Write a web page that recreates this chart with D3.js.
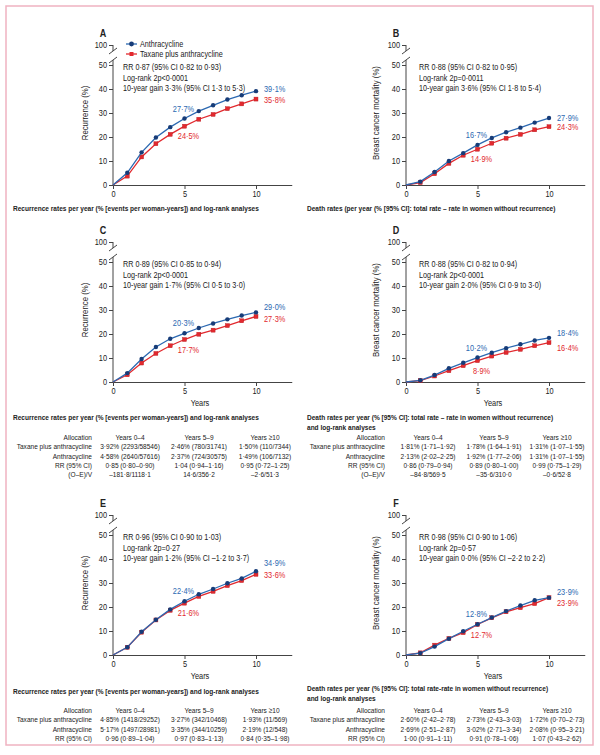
<!DOCTYPE html>
<html>
<head>
<meta charset="utf-8">
<script src="https://cdn.jsdelivr.net/npm/d3@7"></script>
<style>
  body { margin: 0; background: #fff; }
  svg text { font-family: "Liberation Sans Narrow", "Arial Narrow", "Liberation Sans", sans-serif; fill: #222; }
</style>
</head>
<body>
<svg id="chart" width="600" height="755"></svg>
<script>
const years = [0, 1, 2, 3, 4, 5, 6, 7, 8, 9, 10];
const yTicks = [0, 10, 20, 30, 40, 50, 100];
const xTicks = [0, 5, 10];
const seriesNames = ['Anthracycline', 'Taxane plus anthracycline'];
const tableHead = ['Allocation', 'Years 0–4', 'Years 5–9', 'Years ≥10'];

// A: recurrence, B: breast cancer mortality (all women)
const aAnthra = [0, 5.1, 13.6, 19.8, 24.1, 27.7, 30.8, 33.2, 35.6, 37.4, 39.1];
const aTaxane = [0, 3.7, 11.7, 17.2, 21.1, 24.5, 27.4, 29.4, 31.8, 33.8, 35.8];
const bAnthra = [0, 1.4, 5.4, 10.0, 13.3, 16.7, 19.6, 22.0, 23.9, 26.0, 27.9];
const bTaxane = [0, 1.0, 4.7, 9.0, 12.4, 14.9, 17.4, 19.5, 21.1, 23.0, 24.3];

// C / D
const cAnthra = [0, 3.7, 9.6, 14.6, 18.0, 20.3, 22.5, 24.4, 26.1, 27.7, 29.0];
const cTaxane = [0, 3.0, 7.9, 11.9, 15.1, 17.7, 19.9, 21.6, 23.5, 25.5, 27.3];
const dAnthra = [0, 0.7, 2.9, 5.7, 8.0, 10.2, 12.2, 14.1, 15.7, 17.3, 18.4];
const dTaxane = [0, 0.6, 2.5, 4.7, 6.8, 8.9, 10.8, 12.3, 13.6, 15.1, 16.4];

// E / F
const eAnthra = [0, 3.2, 9.7, 14.7, 19.0, 22.4, 25.3, 27.5, 29.9, 31.9, 34.9];
const eTaxane = [0, 3.2, 9.5, 14.6, 18.6, 21.6, 24.4, 26.5, 28.9, 31.0, 33.6];
const fAnthra = [0, 0.8, 3.5, 6.8, 9.9, 12.8, 15.6, 18.3, 20.6, 22.8, 23.9];
const fTaxane = [0, 0.9, 4.1, 6.9, 9.3, 12.7, 15.5, 18.0, 19.7, 21.4, 23.9];

const aNotes = ['RR 0·87 (95% CI 0·82 to 0·93)', 'Log-rank 2p<0·0001', '10-year gain 3·3% (95% CI 1·3 to 5·3)'];
const bNotes = ['RR 0·88 (95% CI 0·82 to 0·95)', 'Log-rank 2p=0·0011', '10-year gain 3·6% (95% CI 1·8 to 5·4)'];
const cNotes = ['RR 0·89 (95% CI 0·85 to 0·94)', 'Log-rank 2p<0·0001', '10-year gain 1·7% (95% CI 0·5 to 3·0)'];
const dNotes = ['RR 0·88 (95% CI 0·82 to 0·94)', 'Log-rank 2p<0·0001', '10-year gain 2·0% (95% CI 0·9 to 3·0)'];
const eNotes = ['RR 0·96 (95% CI 0·90 to 1·03)', 'Log-rank 2p=0·27', '10-year gain 1·2% (95% CI –1·2 to 3·7)'];
const fNotes = ['RR 0·98 (95% CI 0·90 to 1·06)', 'Log-rank 2p=0·57', '10-year gain 0·0% (95% CI –2·2 to 2·2)'];

const recurTitle = ['Recurrence rates per year (% [events per woman-years]) and log-rank analyses'];
const bTitle = ['Death rates (per year (% [95% CI]: total rate – rate in women without recurrence)'];
const dTitle = ['Death rates per year (% [95% CI]: total rate – rate in women without recurrence)', 'and log-rank analyses'];
const fTitle = ['Death rates per year (% [95% CI]: total rate-rate in women without recurrence)', 'and log-rank analyses'];

const cTable = [
  ['Taxane plus anthracycline', '3·92% (2293/58546)', '2·46% (780/31741)', '1·50% (110/7344)'],
  ['Anthracycline', '4·58% (2640/57616)', '2·37% (724/30575)', '1·49% (106/7132)'],
  ['RR (95% CI)', '0·85 (0·80–0·90)', '1·04 (0·94–1·16)', '0·95 (0·72–1·25)'],
  ['(O–E)/V', '–181·8/1118·1', '14·6/356·2', '–2·6/51·3']
];
const dTable = [
  ['Taxane plus anthracycline', '1·81% (1·71–1·92)', '1·78% (1·64–1·91)', '1·31% (1·07–1·55)'],
  ['Anthracycline', '2·13% (2·02–2·25)', '1·92% (1·77–2·06)', '1·31% (1·07–1·55)'],
  ['RR (95% CI)', '0·86 (0·79–0·94)', '0·89 (0·80–1·00)', '0·99 (0·75–1·29)'],
  ['(O–E)/V', '–84·8/569·5', '–35·6/310·0', '–0·6/52·8']
];
const eTable = [
  ['Taxane plus anthracycline', '4·85% (1418/29252)', '3·27% (342/10468)', '1·93% (11/569)'],
  ['Anthracycline', '5·17% (1497/28981)', '3·35% (344/10259)', '2·19% (12/548)'],
  ['RR (95% CI)', '0·96 (0·89–1·04)', '0·97 (0·83–1·13)', '0·84 (0·35–1·98)']
];
const fTable = [
  ['Taxane plus anthracycline', '2·60% (2·42–2·78)', '2·73% (2·43–3·03)', '1·72% (0·70–2·73)'],
  ['Anthracycline', '2·69% (2·51–2·87)', '3·02% (2·71–3·34)', '2·08% (0·95–3·21)'],
  ['RR (95% CI)', '1·00 (0·91–1·11)', '0·91 (0·78–1·06)', '1·07 (0·43–2·62)']
];

const blue = '#2b68b1', blueDark = '#173c78', red = '#e2292e', redDark = '#b81a1f';
const recurLabel = 'Recurrence (%)', mortLabel = 'Breast cancer mortality (%)';

const panels = [
  { id: 'A', ax: 113, y0: 185, anthra: aAnthra, taxane: aTaxane, notes: aNotes, ylab: recurLabel, legend: true,
    title: recurTitle, titleDy: 26, years: false, endDy: [-2, 1] },
  { id: 'B', ax: 406, y0: 185, anthra: bAnthra, taxane: bTaxane, notes: bNotes, ylab: mortLabel,
    title: bTitle, titleDy: 26, years: false, endDy: [0, 0] },
  { id: 'C', ax: 113, y0: 382, anthra: cAnthra, taxane: cTaxane, notes: cNotes, ylab: recurLabel,
    title: recurTitle, titleDy: 38, years: true, table: cTable, endDy: [-5, 2.5] },
  { id: 'D', ax: 406, y0: 382, anthra: dAnthra, taxane: dTaxane, notes: dNotes, ylab: mortLabel,
    title: dTitle, titleDy: 38, years: true, table: dTable, endDy: [-5, 5] },
  { id: 'E', ax: 113, y0: 655, anthra: eAnthra, taxane: eTaxane, notes: eNotes, ylab: recurLabel,
    title: recurTitle, titleDy: 39, years: true, table: eTable, endDy: [-8, 1] },
  { id: 'F', ax: 406, y0: 655, anthra: fAnthra, taxane: fTaxane, notes: fNotes, ylab: mortLabel,
    title: fTitle, titleDy: 36, years: true, table: fTable, endDy: [-6, 5] }
];

const svg = d3.select('#chart');
const fmt = v => v.toFixed(1).replace('.', '·') + '%';

// pink frame round the figure
svg.append('rect')
  .attr('x', 6).attr('y', 6).attr('width', 587).attr('height', 739)
  .attr('fill', 'none').attr('stroke', '#efb3c1').attr('stroke-width', 1.5);

panels.forEach(p => {
  const left = p.ax < 300;
  const g = svg.append('g');
  const x = d3.scaleLinear().domain([0, 12.5]).range([p.ax, p.ax + 178.75]);
  // broken axis: 0-50 then a short stretch up to 100
  const y = d3.scaleLinear().domain([0, 50, 100]).range([p.y0, p.y0 - 120, p.y0 - 140]);

  // axes
  const yAxis = g.append('g').attr('transform', `translate(${p.ax},0)`)
    .call(d3.axisLeft(y).tickValues(yTicks).tickSize(4).tickPadding(2));
  yAxis.select('.domain').remove();
  const xAxis = g.append('g').attr('transform', `translate(0,${p.y0})`)
    .call(d3.axisBottom(x).tickValues(xTicks).tickSize(4).tickSizeOuter(0).tickPadding(2));
  g.selectAll('.tick text').attr('font-size', 9).attr('fill', '#222');
  g.selectAll('.tick line, .domain').attr('stroke', '#444');

  const brLo = y(50) - 5, brHi = y(100) + 6;
  g.append('line').attr('x1', p.ax).attr('x2', p.ax).attr('y1', p.y0).attr('y2', brLo).attr('stroke', '#444');
  g.append('line').attr('x1', p.ax).attr('x2', p.ax).attr('y1', y(100)).attr('y2', brHi).attr('stroke', '#444');
  [brLo, brHi].forEach(b => {
    g.append('line').attr('x1', p.ax - 4).attr('x2', p.ax + 4).attr('y1', b + 3).attr('y2', b - 3)
      .attr('stroke', '#444');
  });

  g.append('text')
    .attr('transform', `translate(${p.ax - (left ? 25 : 27)},${p.y0 - 72}) rotate(-90)`)
    .attr('text-anchor', 'middle').attr('font-size', 9.5).text(p.ylab);

  g.append('text').attr('x', p.ax - 10).attr('y', p.y0 - 148)
    .attr('text-anchor', 'middle').attr('font-weight', 'bold').attr('font-size', 11).text(p.id);

  // notes
  g.selectAll('.note').data(p.notes).join('text')
    .attr('x', p.ax + (left ? 10 : 13)).attr('y', (d, i) => y(50) + 5 + i * 10.7)
    .attr('font-size', 8.8).text(d => d);

  // lines + markers
  const line = d3.line().x((d, i) => x(years[i])).y(d => y(d));
  g.append('path').datum(p.taxane).attr('d', line).attr('fill', 'none').attr('stroke', red).attr('stroke-width', 1.3);
  g.selectAll('.sq').data(p.taxane.slice(1)).join('rect')
    .attr('x', (d, i) => x(years[i + 1]) - 2).attr('y', d => y(d) - 2)
    .attr('width', 4).attr('height', 4).attr('fill', red).attr('stroke', redDark).attr('stroke-width', 0.4);
  g.append('path').datum(p.anthra).attr('d', line).attr('fill', 'none').attr('stroke', blue).attr('stroke-width', 1.3);
  g.selectAll('.ci').data(p.anthra.slice(1)).join('circle')
    .attr('cx', (d, i) => x(years[i + 1])).attr('cy', d => y(d)).attr('r', 2.2).attr('fill', blueDark);

  // value labels at 5 and 10 years
  g.append('text').attr('x', x(5) - 1).attr('y', y(p.anthra[5]) - 7)
    .attr('text-anchor', 'middle').attr('font-size', 9).style('fill', blue).text(fmt(p.anthra[5]));
  g.append('text').attr('x', x(5) + 4).attr('y', y(p.taxane[5]) + 13)
    .attr('text-anchor', 'middle').attr('font-size', 9).style('fill', red).text(fmt(p.taxane[5]));
  g.append('text').attr('x', x(10) + 8).attr('y', y(p.anthra[10]) + 3 + p.endDy[0])
    .attr('font-size', 9).style('fill', blue).text(fmt(p.anthra[10]));
  g.append('text').attr('x', x(10) + 8).attr('y', y(p.taxane[10]) + 3 + p.endDy[1])
    .attr('font-size', 9).style('fill', red).text(fmt(p.taxane[10]));

  if (p.legend) {
    [[blue, blueDark, 'c'], [red, red, 's']].forEach(([c, m, shape], i) => {
      const ly = p.y0 - 141 + i * 10;
      g.append('line').attr('x1', p.ax + 13).attr('x2', p.ax + 24).attr('y1', ly).attr('y2', ly)
        .attr('stroke', c).attr('stroke-width', 1.3);
      if (shape === 'c') g.append('circle').attr('cx', p.ax + 18.5).attr('cy', ly).attr('r', 2.4).attr('fill', m);
      else g.append('rect').attr('x', p.ax + 16.5).attr('y', ly - 2).attr('width', 4).attr('height', 4).attr('fill', m);
      g.append('text').attr('x', p.ax + 27).attr('y', ly + 3).attr('font-size', 8.8).text(seriesNames[i]);
    });
  }

  if (p.years) {
    g.append('text').attr('x', p.ax + 87).attr('y', p.y0 + 24)
      .attr('text-anchor', 'middle').attr('font-size', 9).text('Years');
  }

  const tx = left ? 13 : 307;
  g.selectAll('.ttl').data(p.title).join('text')
    .attr('x', tx).attr('y', (d, i) => p.y0 + p.titleDy + i * 10.5)
    .attr('font-weight', 'bold').attr('font-size', 8).text(d => d);

  if (p.table) {
    const labX = left ? 92 : 385;
    const cols = left ? [130, 199, 265] : [428, 494, 557];
    const rows = [tableHead].concat(p.table);
    rows.forEach((r, ri) => {
      const ry = p.y0 + 58 + ri * 9.3;
      r.forEach((cell, ci) => {
        g.append('text').attr('x', ci === 0 ? labX : cols[ci - 1]).attr('y', ry)
          .attr('text-anchor', ci === 0 ? 'end' : 'middle').attr('font-size', 8).text(cell);
      });
    });
  }
});

// no narrow font installed, so squeeze every text sideways round its anchor
svg.selectAll('text').each(function () {
  const t = d3.select(this);
  const ax = +t.attr('x') || 0;
  const tr = t.attr('transform');
  t.attr('transform', tr ? `${tr} scale(0.82,1)` : `translate(${ax},0) scale(0.82,1) translate(${-ax},0)`);
});
</script>
</body>
</html>
